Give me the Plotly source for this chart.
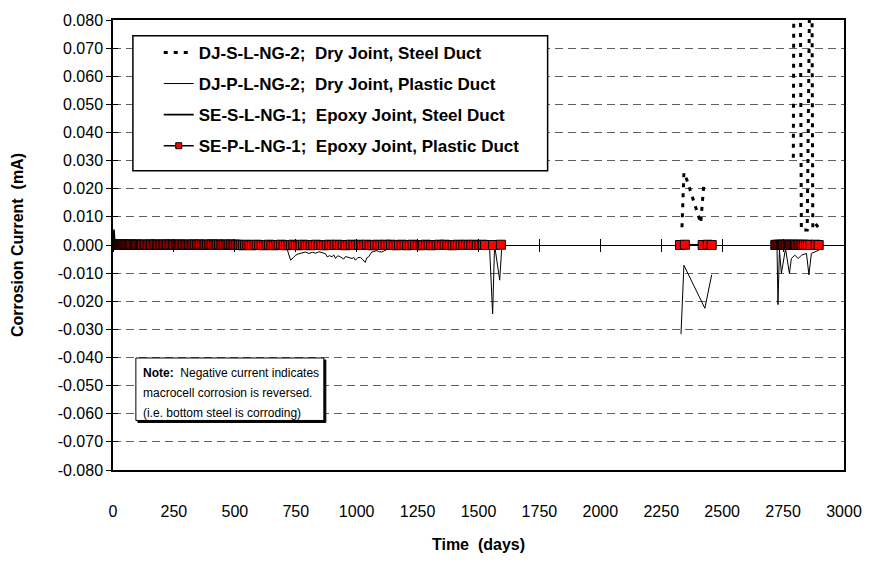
import plotly.graph_objects as go

FONT = "Liberation Sans, Arial, sans-serif"
NB = "\u00a0"

# ---------------- axis ticks ----------------
x_ticks = [0, 250, 500, 750, 1000, 1250, 1500, 1750, 2000, 2250, 2500, 2750, 3000]
x_tick_text = ["0", "250", "500", "750", "1000", "1250", "1500", "1750", "2000",
               "2250", "2500", "2750", "3000"]
y_ticks = [0.08, 0.07, 0.06, 0.05, 0.04, 0.03, 0.02, 0.01, 0.0,
           -0.01, -0.02, -0.03, -0.04, -0.05, -0.06, -0.07, -0.08]
y_tick_text = ["0.080", "0.070", "0.060", "0.050", "0.040", "0.030", "0.020", "0.010", "0.000",
               "-0.010", "-0.020", "-0.030", "-0.040", "-0.050", "-0.060", "-0.070", "-0.080"]

series_names = [
    "DJ-S-L-NG-2;" + NB + " Dry Joint, Steel Duct",
    "DJ-P-L-NG-2;" + NB + " Dry Joint, Plastic Duct",
    "SE-S-L-NG-1;" + NB + " Epoxy Joint, Steel Duct",
    "SE-P-L-NG-1;" + NB + " Epoxy Joint, Plastic Duct",
]

# ---------------- SE-P-L-NG-1 (red squares) ----------------
sep_days_1 = [
    0, 2, 5, 8, 11, 14, 17, 20, 24, 28,
    32, 36, 40, 44, 48, 52, 56, 60, 65, 70,
    75, 80, 85, 90, 95, 100, 105, 110, 115, 120,
    126, 132, 138, 144, 150, 156, 162, 168, 174, 180,
    186, 192, 198, 204, 210, 216, 222, 228, 234, 240,
    246, 252, 258, 264, 270, 276, 282, 288, 294, 300,
    306, 312, 318, 324, 330, 337, 344, 351, 358, 365,
    372, 379, 386, 393, 400, 407, 414, 421, 428, 435,
    442, 449, 456, 463, 470, 477, 484, 491, 498, 506,
    515, 524, 533, 542, 551, 560, 570, 580, 590, 600,
    610, 620, 630, 640, 650, 660, 670, 680, 690, 700,
    710, 720, 730, 740, 750, 760, 770, 780, 790, 800,
    811, 822, 833, 844, 855, 866, 877, 888, 899, 910,
    921, 932, 943, 954, 965, 976, 987, 998, 1009, 1020,
    1031, 1042, 1053, 1064, 1075, 1086, 1097, 1108, 1119, 1130,
    1141, 1152, 1163, 1174, 1185, 1196, 1207, 1218, 1229, 1240,
    1251, 1262, 1273, 1284, 1295, 1306, 1317, 1328, 1339, 1350,
    1361, 1372, 1383, 1394, 1405, 1416, 1427, 1438, 1449, 1460,
    1471, 1482, 1493, 1504, 1515, 1527, 1560, 1592,
]
sep_vals_1 = [
    0.0000, 0.0001, 0.0001, 0.0000, 0.0002, 0.0001, 0.0000, 0.0001, 0.0002, 0.0001,
    0.0000, 0.0001, 0.0000, 0.0001, 0.0002, 0.0001, 0.0001, 0.0000, 0.0001, 0.0002,
    0.0001, 0.0000, 0.0001, 0.0001, 0.0000, 0.0002, 0.0001, 0.0000, 0.0001, 0.0001,
    0.0000, 0.0001, 0.0001, 0.0000, 0.0002, 0.0001, 0.0000, 0.0001, 0.0002, 0.0001,
    0.0000, 0.0001, 0.0000, 0.0001, 0.0002, 0.0001, 0.0001, 0.0000, 0.0001, 0.0002,
    0.0001, 0.0000, 0.0001, 0.0001, 0.0000, 0.0002, 0.0001, 0.0000, 0.0001, 0.0001,
    0.0000, 0.0001, 0.0001, 0.0000, 0.0002, 0.0001, 0.0000, 0.0001, 0.0002, 0.0001,
    0.0000, 0.0001, 0.0000, 0.0001, 0.0002, 0.0001, 0.0001, 0.0000, 0.0001, 0.0002,
    0.0001, 0.0000, 0.0001, 0.0001, 0.0000, 0.0002, 0.0001, 0.0000, 0.0001, 0.0001,
    0.0001, 0.0000, -0.0001, 0.0000, 0.0001, 0.0000, -0.0001, 0.0000, 0.0001, 0.0000,
    0.0000, -0.0001, 0.0000, 0.0001, 0.0000, -0.0001, 0.0000, 0.0000, 0.0001, 0.0000,
    -0.0001, 0.0000, 0.0000, 0.0001, 0.0000, -0.0001, 0.0000, 0.0001, 0.0000, 0.0000,
    -0.0001, 0.0000, 0.0001, 0.0000, 0.0000, -0.0001, 0.0000, 0.0001, 0.0000, 0.0000,
    0.0001, 0.0000, 0.0000, -0.0001, 0.0000, 0.0001, 0.0000, 0.0000, 0.0001, 0.0000,
    0.0000, 0.0001, 0.0000, -0.0001, 0.0000, 0.0001, 0.0000, 0.0000, 0.0001, 0.0000,
    0.0001, 0.0000, -0.0001, 0.0000, 0.0001, 0.0000, -0.0001, 0.0000, 0.0001, 0.0000,
    0.0000, -0.0001, 0.0000, 0.0001, 0.0000, -0.0001, 0.0000, 0.0000, 0.0001, 0.0000,
    0.0001, 0.0000, 0.0000, -0.0001, 0.0000, 0.0001, 0.0000, 0.0000, 0.0001, 0.0000,
    0.0000, 0.0001, 0.0000, 0.0000, 0.0001, 0.0000, 0.0000, 0.0001,
]
sep_days_2 = [2327, 2347, 2420, 2441, 2457]
sep_vals_2 = [0.0000, 0.0001, 0.0000, 0.0001, 0.0000]
sep_days_3 = [
    2718, 2722, 2727, 2731, 2736, 2741, 2745, 2750, 2755, 2760,
    2764, 2769, 2774, 2779, 2784, 2789, 2794, 2799, 2804, 2810,
    2816, 2822, 2829, 2836, 2844, 2852, 2862, 2884, 2896,
]
sep_vals_3 = [
    0.0000, 0.0001, 0.0000, 0.0001, 0.0000, 0.0001, 0.0000, 0.0001, 0.0000, 0.0001,
    0.0000, 0.0001, 0.0000, 0.0001, 0.0000, 0.0001, 0.0000, 0.0001, 0.0000, 0.0001,
    0.0000, 0.0001, 0.0000, 0.0001, 0.0000, 0.0001, 0.0000, 0.0001, 0.0000,
]

# ---------------- SE-S-L-NG-1 (solid) ----------------
ses_days_1 = [0, 4, 8, 12, 40, 90, 150, 220, 300, 380, 460, 540, 620, 700, 780, 860,
              940, 1020, 1100, 1180, 1260, 1340, 1420, 1500, 1560, 1592]
ses_vals_1 = [0.0000, 0.0055, 0.0003, 0.0001, 0.0001, 0.0000, 0.0001, 0.0000, 0.0001,
              0.0000, 0.0001, 0.0000, 0.0001, 0.0000, 0.0001, 0.0000, 0.0001, 0.0000,
              0.0001, 0.0000, 0.0001, 0.0000, 0.0001, 0.0000, 0.0001, 0.0000]
ses_days_2 = [2327, 2347, 2420, 2441, 2457]
ses_vals_2 = [0.0001, 0.0000, 0.0001, 0.0000, 0.0001]
ses_days_3 = [2718, 2740, 2760, 2780, 2800, 2820, 2840, 2862, 2884, 2896]
ses_vals_3 = [0.0001, 0.0000, 0.0001, 0.0000, 0.0001, 0.0000, 0.0001, 0.0000, 0.0001, 0.0000]

# ---------------- DJ-P-L-NG-2 (thin solid) ----------------
djp_days_1 = [
    0, 60, 120, 180, 240, 300, 360, 420, 480, 540,
    600, 660, 705, 716, 729, 740, 750, 763, 776, 790,
    804, 818, 832, 845, 858, 872, 879, 889, 899, 906,
    913, 920, 927, 937, 947, 954, 960, 970, 981, 988,
    995, 1005, 1015, 1025, 1035, 1042, 1049, 1062, 1072, 1083,
    1093, 1103, 1131, 1160, 1220, 1280, 1340, 1400, 1460, 1520,
    1545, 1558, 1566, 1587, 1596,
]
djp_vals_1 = [
    0.0000, -0.0001, 0.0000, -0.0001, 0.0000, -0.0001, 0.0000, -0.0001, 0.0000, -0.0001,
    0.0000, -0.0002, -0.0003, -0.0019, -0.0054, -0.0045, -0.0036, -0.0031, -0.0028, -0.0025,
    -0.0030, -0.0026, -0.0029, -0.0024, -0.0027, -0.0031, -0.0042, -0.0038, -0.0042, -0.0035,
    -0.0048, -0.0040, -0.0039, -0.0046, -0.0050, -0.0041, -0.0042, -0.0046, -0.0048, -0.0044,
    -0.0054, -0.0045, -0.0044, -0.0052, -0.0062, -0.0045, -0.0042, -0.0025, -0.0022, -0.0020,
    -0.0024, -0.0025, -0.0013, -0.0004, -0.0001, 0.0000, -0.0001, 0.0000, -0.0001, 0.0000,
    0.0000, -0.0245, 0.0000, -0.0125, 0.0000,
]
djp_days_2 = [2331, 2343, 2429, 2457]
djp_vals_2 = [-0.0317, -0.0072, -0.0225, -0.0106]
djp_days_3 = [2725, 2729, 2735, 2743, 2760, 2776, 2784, 2798, 2812, 2826, 2846, 2856, 2866, 2886, 2898]
djp_vals_3 = [0.0000, -0.0212, -0.0018, -0.0101, -0.0013, -0.0101, -0.0048, -0.0036, -0.0048,
              -0.0036, -0.0030, -0.0106, -0.0030, -0.0021, -0.0018]

# ---------------- DJ-S-L-NG-2 (thick dashed) ----------------
djs_days_1 = [0, 100, 200, 300, 400, 500, 600, 700, 800, 900, 1000, 1100, 1200, 1300,
              1400, 1500, 1592]
djs_vals_1 = [0.0001, 0.0001, 0.0002, 0.0001, 0.0001, 0.0002, 0.0001, 0.0001, 0.0002,
              0.0001, 0.0001, 0.0002, 0.0001, 0.0001, 0.0002, 0.0001, 0.0001]
djs_days_2 = [2335, 2343, 2355, 2412, 2424]
djs_vals_2 = [0.0063, 0.0257, 0.0232, 0.0078, 0.0208]
djs_days_3 = [2792, 2796, 2818, 2825, 2849, 2855, 2866, 2872, 2884, 2896]
djs_vals_3 = [0.0310, 0.1500, 0.1500, 0.0053, 0.0053, 0.1500, 0.1500, 0.0060, 0.0075, 0.0060]


def joined(*parts):
    out = []
    for i, p in enumerate(parts):
        if i:
            out.append(None)
        out.extend(p)
    return out


styles = [
    dict(mode="lines", line=dict(color="black", width=3, dash="4px,6px")),
    dict(mode="lines", line=dict(color="black", width=1)),
    dict(mode="lines", line=dict(color="black", width=1.6)),
    dict(mode="lines+markers", line=dict(color="black", width=1.6),
         marker=dict(symbol="square", size=9, color="#FF0000",
                     line=dict(color="black", width=1))),
]
data_x = [
    joined(djs_days_1, djs_days_2, djs_days_3),
    joined(djp_days_1, djp_days_2, djp_days_3),
    joined(ses_days_1, ses_days_2, ses_days_3),
    joined(sep_days_1, sep_days_2, sep_days_3),
]
data_y = [
    joined(djs_vals_1, djs_vals_2, djs_vals_3),
    joined(djp_vals_1, djp_vals_2, djp_vals_3),
    joined(ses_vals_1, ses_vals_2, ses_vals_3),
    joined(sep_vals_1, sep_vals_2, sep_vals_3),
]

fig = go.Figure()

# helper traces so the overlay axes (crossing ticks) are drawn
fig.add_trace(go.Scatter(x=[None], y=[None], xaxis="x2", yaxis="y", showlegend=False,
                         hoverinfo="skip"))
fig.add_trace(go.Scatter(x=[None], y=[None], xaxis="x3", yaxis="y", showlegend=False,
                         hoverinfo="skip"))
fig.add_trace(go.Scatter(x=[None], y=[None], xaxis="x", yaxis="y2", showlegend=False,
                         hoverinfo="skip"))

for xs, ys, st in zip(data_x, data_y, styles):
    fig.add_trace(go.Scatter(x=xs, y=ys, showlegend=False, hoverinfo="skip",
                             connectgaps=False, **st))

# legend entries
for i, (name, st) in enumerate(zip(series_names, styles)):
    st = dict(st)
    if "marker" in st:
        st["marker"] = dict(st["marker"], size=6)
    fig.add_trace(go.Scatter(x=[None], y=[None], name=name, legendgroup=f"g{i}",
                             showlegend=True, **st))

W, H = 874, 573
L, R, T, B = 113, 26, 16, 103
pw, ph = W - L - R, H - T - B


def px(x):
    return (x - L) / pw


def py(y):
    return (H - B - y) / ph


shapes = [
    # legend box
    dict(type="rect", xref="paper", yref="paper", x0=px(133), x1=px(550), y0=py(168), y1=py(32),
         line=dict(color="black", width=1.5), fillcolor="white", layer="above"),
    # note shadow + box
    dict(type="rect", xref="paper", yref="paper", x0=px(138), x1=px(327), y0=py(422), y1=py(359),
         line=dict(color="black", width=1), fillcolor="black", layer="above"),
    dict(type="rect", xref="paper", yref="paper", x0=px(136), x1=px(325), y0=py(420), y1=py(357),
         line=dict(color="black", width=1), fillcolor="white", layer="above"),
]

note_lines = ["<b>Note:</b>" + NB + " Negative current indicates",
              "macrocell corrosion is reversed.",
              "(i.e. bottom steel is corroding)"]
note_y = [372, 392, 412]
annotations = [
    dict(text=t, xref="paper", yref="paper", x=px(141), y=py(yy), xanchor="left",
         yanchor="middle", showarrow=False, font=dict(family=FONT, size=12, color="black"))
    for t, yy in zip(note_lines, note_y)
]

fig.update_layout(
    width=W, height=H,
    margin=dict(l=L, r=R, t=T, b=B, pad=0),
    paper_bgcolor="white", plot_bgcolor="white",
    font=dict(family=FONT, size=16, color="black"),
    showlegend=True,
    legend=dict(x=px(159), y=py(31), xanchor="left", yanchor="top",
                bgcolor="rgba(0,0,0,0)", borderwidth=0, tracegroupgap=6,
                font=dict(family=FONT, size=17, color="black", weight="bold")),
    shapes=shapes,
    annotations=annotations,
    xaxis=dict(range=[0, 3000], tickmode="array", tickvals=x_ticks, ticktext=x_tick_text,
               ticks="", showgrid=False, zeroline=False, showline=True, mirror=True,
               linecolor="black", linewidth=1.5, ticklabelstandoff=26,
               tickfont=dict(family=FONT, size=16),
               title=dict(text="Time" + NB + " (days)", standoff=20,
                          font=dict(family=FONT, size=16, weight="bold"))),
    xaxis2=dict(range=[0, 3000], overlaying="x", anchor="free", position=0.5, side="bottom",
                tickmode="array", tickvals=x_ticks, ticks="outside", ticklen=6,
                tickcolor="black", tickwidth=1, showticklabels=False, showgrid=False,
                zeroline=False, showline=False),
    xaxis3=dict(range=[0, 3000], overlaying="x", anchor="free", position=0.5, side="top",
                tickmode="array", tickvals=x_ticks, ticks="outside", ticklen=6,
                tickcolor="black", tickwidth=1, showticklabels=False, showgrid=False,
                zeroline=False, showline=False),
    yaxis=dict(range=[-0.08, 0.08], tickmode="array", tickvals=y_ticks, ticktext=y_tick_text,
               ticks="outside", ticklen=5, tickcolor="black", tickwidth=1,
               showgrid=True, gridcolor="#606060", gridwidth=1, griddash="8px,5px",
               zeroline=True, zerolinecolor="black", zerolinewidth=1,
               showline=True, mirror=True, linecolor="black", linewidth=1.5,
               tickfont=dict(family=FONT, size=16),
               title=dict(text="Corrosion Current" + NB + " (mA)", standoff=30,
                          font=dict(family=FONT, size=16, weight="bold"))),
    yaxis2=dict(range=[-0.08, 0.08], overlaying="y", side="left", tickmode="array",
                tickvals=y_ticks, ticks="inside", ticklen=5, tickcolor="black", tickwidth=1,
                showticklabels=False, showgrid=False, zeroline=False, showline=False),
)

fig.write_html("out.html")
